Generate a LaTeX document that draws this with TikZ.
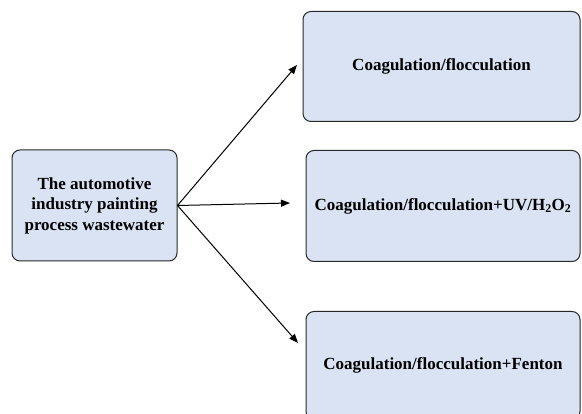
\documentclass[tikz,border=0pt]{standalone}
\usepackage{fontspec}
\setmainfont{Liberation Serif}
\usetikzlibrary{positioning,arrows.meta}
\definecolor{boxblue}{RGB}{218,227,243}
\definecolor{boxline}{RGB}{40,40,40}

\begin{document}
\begin{tikzpicture}[x=1pt,y=-1pt,line width=1pt,
  procbox/.style={draw=boxline,fill=boxblue,rounded corners=8pt,inner sep=0pt,
    minimum width=274pt,minimum height=111pt,align=center,
    font=\fontsize{17}{20.5}\selectfont\bfseries},
  flow/.style={-{Triangle[length=9pt,width=7pt]}}]
 \useasboundingbox (0,0) rectangle (582,414);
 \node [procbox,minimum width=165pt] (source) at (94.5,205.5)
  {The automotive\\industry painting\\process wastewater};
 \node [procbox] (coagUV) at (443,206) {Coagulation/flocculation+UV/H\textsubscript{2}O\textsubscript{2}};
 \node [procbox,minimum width=277pt,minimum height=110pt,above=28pt of coagUV,xshift=-1.5pt] (coag) {Coagulation/flocculation};
 \node [procbox,minimum height=108pt,below=49pt of coagUV] (coagFenton) {Coagulation/flocculation+Fenton};
 \coordinate (tipA) at (297,65);
 \coordinate (tipB) at (290,203);
 \coordinate (tipC) at (298,343);
 \draw [flow] (source.east) -- (tipA);
 \draw [flow] (source.east) -- (tipB);
 \draw [flow] (source.east) -- (tipC);
\end{tikzpicture}
\end{document}
